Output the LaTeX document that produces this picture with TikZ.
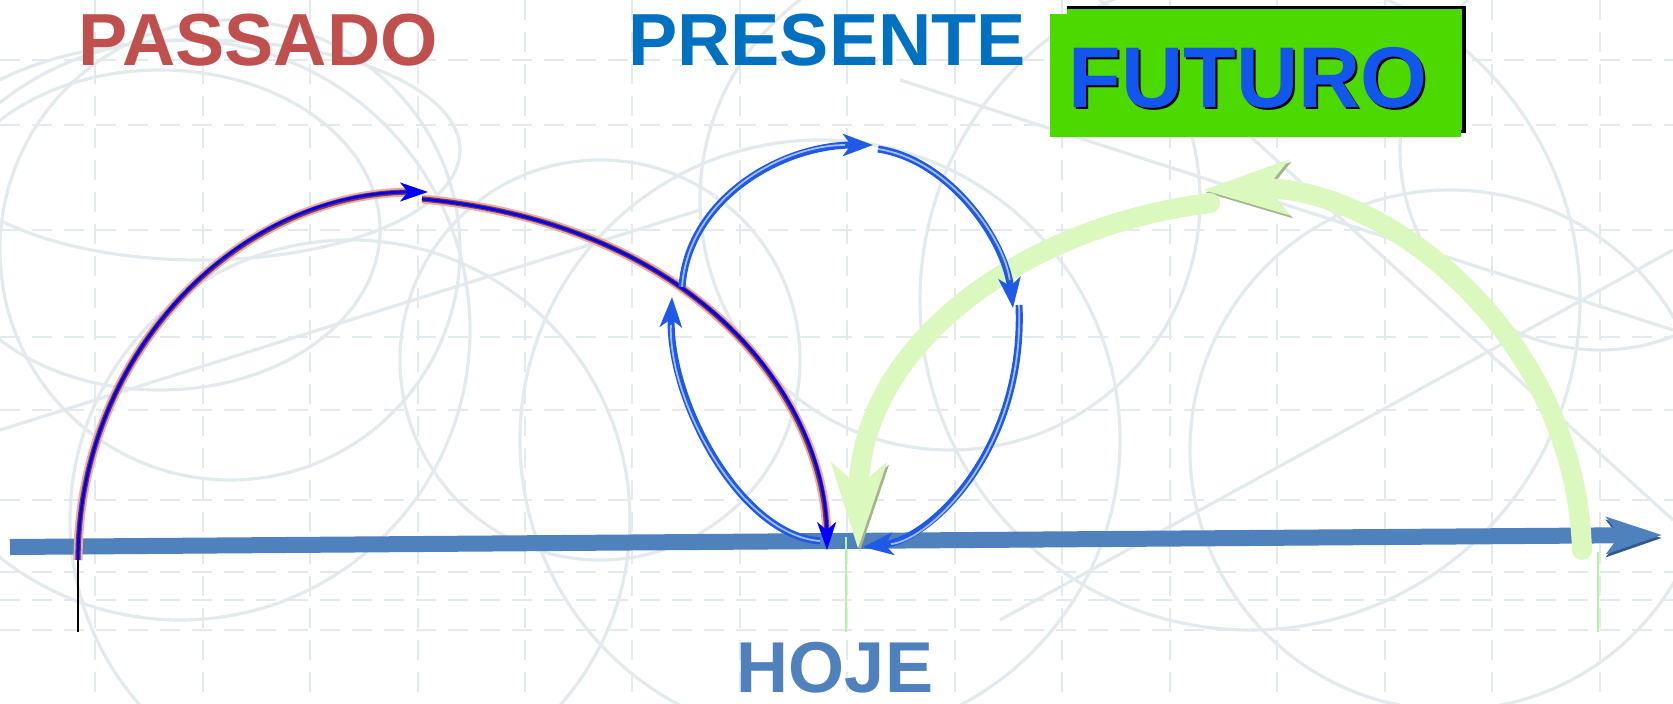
\documentclass[tikz,border=0pt]{standalone}
\usepackage{fontspec}
\setmainfont{Liberation Sans}
\usetikzlibrary{arrows.meta,calc,positioning}

\definecolor{pastred}{HTML}{C0504D}
\definecolor{presblue}{HTML}{0070C0}
\definecolor{todayblue}{HTML}{4F81BD}
\definecolor{axisdark}{HTML}{34588A}
\definecolor{loopblue}{HTML}{1E5AE6}
\definecolor{futgreen}{HTML}{4CD900}
\definecolor{futblue}{HTML}{1356EE}
\definecolor{lightgreen}{HTML}{DBF9BE}
\definecolor{greenedge}{HTML}{A3B58C}
\definecolor{bgline}{HTML}{E2EAED}

\begin{document}
\begin{tikzpicture}[x=0.1mm,y=-0.1mm]
		\tikzset{
			bigword/.style={font=\fontsize{21}{25}\selectfont\bfseries, anchor=base, inner sep=0pt},
			futword/.style={font=\fontsize{24.5}{28}\selectfont\bfseries, anchor=base, inner sep=0pt},
			bggrid/.style={draw=bgline, line width=0.5pt, dash pattern=on 2mm off 1.2mm},
			bgcurve/.style={draw=bgline, line width=0.9pt},
			timeaxis/.style={draw=todayblue, line width=1.6mm,
					-{Stealth[length=5.5mm,width=3.6mm,inset=1.3mm]},
					preaction={draw=axisdark, transform canvas={shift={(0mm,-0.3mm)}}}},
			daymark/.style={line width=0.6pt},
			pastarc/.style={draw=blue, line width=0.8pt,
					-{Stealth[length=2.8mm,width=1.9mm,inset=0.8mm]},
					preaction={draw=pastred!45!white, line width=2.6pt, -, shorten >=1.5mm},
					preaction={draw=pastred!70!black, line width=1.5pt, -, shorten >=1.5mm}},
			presarc/.style={draw=loopblue, line width=2pt,
					-{Stealth[length=3mm,width=2.2mm,inset=0.8mm]},
					postaction={draw=loopblue!40!white, line width=0.5pt, -, shorten >=2.8mm}},
			futarc/.style={draw=lightgreen, line width=2mm, line cap=round,
					-{Stealth[length=8.5mm,width=5.4mm,inset=2.2mm]},
					preaction={draw=greenedge, transform canvas={shift={(0.2mm,-0.25mm)}}}},
		}
		\useasboundingbox (0,0) rectangle (1673,704);
		\fill[white] (0,0) rectangle (1673,704);
		%
		% background pattern
		\begin{scope}
			\clip (0,0) rectangle (1673,704);
			\foreach \gx in {95,203,310,418,525,632,740,847,955,1062,1170,1277,1385,1492,1600}
				\draw[bggrid] (\gx,0) -- (\gx,704);
			\foreach \gy in {60,125,230,337,410,500,572,600,630}
				\draw[bggrid] (0,\gy) -- (1673,\gy);
			\foreach \cx/\cy/\r in {230/250/230,180/330/290,600/360/200,820/440/300,950/200/250,
					1250/300/330,1450/450/260,1600/150/200,350/520/280}
				\draw[bgcurve] (\cx,\cy) circle[radius=\r];
			\draw[bgcurve] (200,150) ellipse[x radius=260, y radius=110];
			\draw[bgcurve] (160,230) ellipse[x radius=220, y radius=160];
			\draw[bgcurve] (900,80) -- (1673,330);
			\draw[bgcurve] (1000,620) -- (1673,250);
			\draw[bgcurve] (0,430) -- (700,210);
			\draw[bgcurve] (1100,0) -- (1673,520);
		\end{scope}
		%
		% labels
		\node[bigword, text=pastred] (passado) at (258,66) {PASSADO};
		\node[bigword, text=presblue] (presente) at (827,66) {PRESENTE};
		\node[bigword, font=\fontsize{20.5}{24}\selectfont\bfseries, text=todayblue] (hoje) at (835,692) {HOJE};
		%
		\coordinate (fsw) at (1050,137);
		\coordinate (fne) at (1461,14);
		\fill[black] ($(fsw)+(17,-4)$) rectangle ($(fne)+(5,-8)$);
		\fill[futgreen] ($(fsw)+(17,-7)$) rectangle ($(fne)+(1,-5)$);
		\fill[futgreen] (fsw) rectangle (fne);
		\node[futword, text=black] at (1250,110) {FUTURO};
		\node[futword, text=futblue] (futuro) at (1248,108) {FUTURO};
		%
		% time axis
		\coordinate (axisL) at (10,547);
		\coordinate (axisR) at (1662,535);
		\draw[timeaxis] (axisL) -- (axisR);
		%
		\coordinate (pastA) at (78,560);
		\coordinate (pastB) at (428,192);
		\coordinate (pastC) at (422,199);
		\coordinate (nowP) at (827,550);
		\coordinate (nowL) at (820,541);
		\coordinate (nowR) at (863,547);
		\coordinate (nowF) at (858,549);
		\coordinate (loopW) at (672,297);
		\coordinate (loopW2) at (682,287);
		\coordinate (loopN) at (873,145);
		\coordinate (loopN2) at (878,149);
		\coordinate (loopE) at (1013,308);
		\coordinate (loopE2) at (1019,305);
		\coordinate (futA) at (1582,550);
		\coordinate (futB) at (1203,190);
		\coordinate (futC) at (1210,203);
		%
		\draw[daymark, black] (pastA) -- (78,632);
		\draw[daymark, lightgreen!80!green, line width=0.8pt] (846,537) -- (846,632);
		\draw[daymark, lightgreen!80!green, line width=0.8pt] (1598,552) -- (1598,632);
		%
		% future
		\draw[futarc] (futA) .. controls +(-7,-220) and +(177,-5) .. (futB);
		\draw[futarc] (futC) .. controls +(-180,22) and +(2,-209) .. (nowF);
		%
		% past
		\draw[pastarc] (pastA) .. controls +(0,-203) and +(-193,0) .. (pastB);
		\draw[pastarc] (pastC) .. controls +(278,26) and +(-2,-150) .. (nowP);
		%
		% present
		\draw[presarc] (nowL) .. controls +(-80,-6) and +(-4,103) .. (loopW);
		\draw[presarc] (loopW2) .. controls +(6,-87) and +(-93,0) .. (loopN);
		\draw[presarc] (loopN2) .. controls +(72,11) and +(-8,-68) .. (loopE);
		\draw[presarc] (loopE2) .. controls +(6,145) and +(67,-7) .. (nowR);
	\end{tikzpicture}
\end{document}
